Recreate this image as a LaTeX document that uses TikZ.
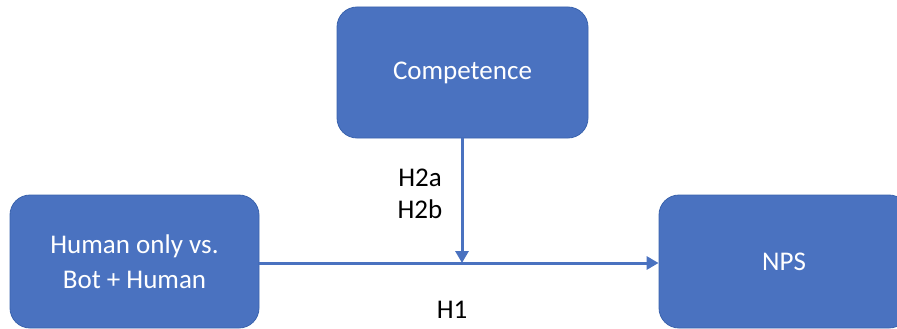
\documentclass[tikz,border=0pt]{standalone}
\usepackage{fontspec}
\setmainfont{Carlito}
\usetikzlibrary{arrows.meta}
\definecolor{boxblue}{HTML}{4A72C0}
\definecolor{boxedge}{HTML}{3A63AD}
\begin{document}
\begin{tikzpicture}[x=1pt,y=-1pt,
  blockbox/.style={draw=boxedge,line width=0.8pt,fill=boxblue,rounded corners=20pt,text=white,font=\fontsize{27}{35}\selectfont,align=center,inner sep=0pt},
  conn/.style={draw=boxblue,line width=3pt,-{Triangle[length=12pt,width=13pt]}},
  lab/.style={font=\fontsize{27}{32}\selectfont,align=center,inner sep=0pt}]
\useasboundingbox (0,0) rectangle (897,329);
\node[blockbox,minimum width=251pt,minimum height=131pt] (comp) at (462.5,72.5) {Competence};
\node[blockbox,minimum width=249pt,minimum height=133pt] (hum) at (134.5,261.5) {Human only vs.\\Bot + Human};
\node[blockbox,minimum width=250pt,minimum height=133pt] (nps) at (784,261.5) {NPS};
\path (hum.east |- 0,263) coordinate (hs) (nps.west |- 0,263) coordinate (ne);
\draw[conn] (hs) -- (ne);
\coordinate (mid) at (462,263);
\draw[conn] (comp.south -| mid) -- (mid);
\node[lab] (h2) at (420,194) {H2a\\H2b};
\node[lab] (h1) at (452,310) {H1};
\end{tikzpicture}
\end{document}
